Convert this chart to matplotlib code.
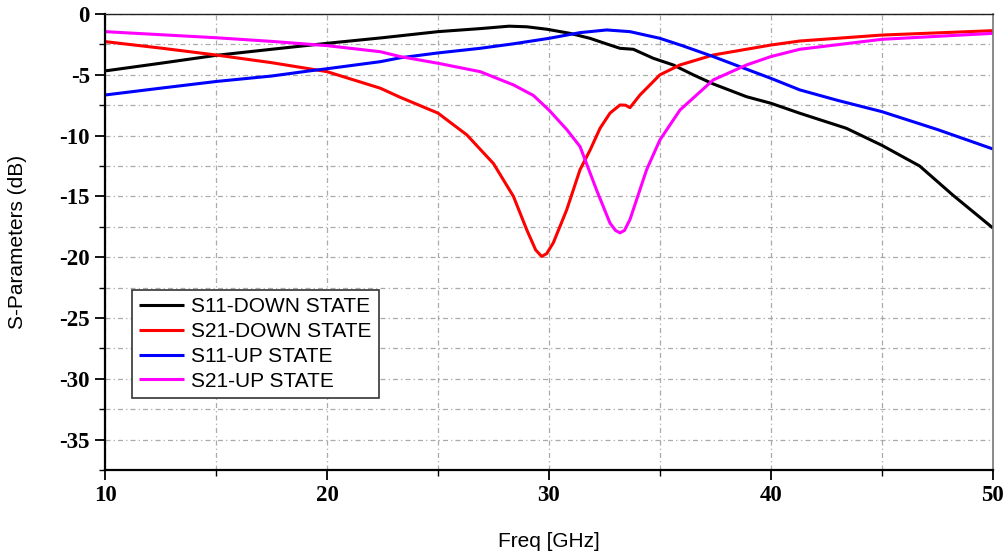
import numpy as np
import matplotlib as mpl
import matplotlib.pyplot as plt
from matplotlib.ticker import MultipleLocator

# S11 - down state (black)
f_s11_down = [10, 12.5, 15, 17.5, 20, 22.5, 25, 26.9, 28.2, 29.0, 29.9, 30.95, 31.85,
              32.5, 33.2, 33.8, 34.7, 35.6, 36.5, 37.4, 38.9, 40, 41.3, 43.4, 45,
              46.7, 48.2, 50]
s11_down = [-4.68, -4.05, -3.4, -2.9, -2.41, -1.95, -1.45, -1.2, -1.0, -1.05, -1.25, -1.59, -2.0,
            -2.4, -2.82, -2.9, -3.64, -4.19, -5.0, -5.75, -6.8, -7.34, -8.16, -9.4, -10.8,
            -12.5, -14.9, -17.6]

# S21 - down state (red)
f_s21_down = [10, 12.5, 15, 17.5, 20, 22.4, 23.3, 25, 26.3, 27.5, 28.4, 29.0, 29.4,
              29.67, 29.9, 30.2, 30.8, 31.4, 31.85, 32.3, 32.75, 33.2, 33.45, 33.65,
              34.1, 35, 35.9, 37.4, 40, 41.3, 45, 50]
s21_down = [-2.27, -2.8, -3.37, -4.0, -4.74, -6.1, -6.85, -8.15, -9.94, -12.3, -15.0, -17.75, -19.4,
            -19.94, -19.7, -18.8, -16.1, -12.8, -11.2, -9.4, -8.15, -7.48, -7.5, -7.7,
            -6.66, -5.0, -4.19, -3.37, -2.55, -2.22, -1.73, -1.37]

# S11 - up state (blue)
f_s11_up = [10, 12.5, 15, 17.5, 19.2, 20, 22.4, 23.3, 25, 26.9, 28.4, 30, 31.4, 32.6,
            33.65, 35, 36, 37.4, 38.7, 40, 41.3, 43, 45, 47.5, 50]
s11_up = [-6.66, -6.1, -5.55, -5.1, -4.68, -4.5, -3.92, -3.6, -3.2, -2.82, -2.45, -2.0, -1.53, -1.31,
          -1.45, -2.0, -2.6, -3.5, -4.4, -5.29, -6.24, -7.1, -8.03, -9.5, -11.1]

# S21 - up state (magenta)
f_s21_up = [10, 12.5, 15, 17.5, 20, 22.4, 23.3, 25, 26.9, 28.4, 29.3, 30, 30.8, 31.4,
            32.15, 32.75, 33.0, 33.2, 33.4, 33.65, 34.4, 35, 35.9, 37.4, 38.9, 40,
            41.3, 45, 50]
s21_up = [-1.45, -1.7, -1.95, -2.25, -2.6, -3.1, -3.5, -4.05, -4.74, -5.83, -6.7, -7.9, -9.5, -10.9,
          -14.5, -17.2, -17.8, -18.0, -17.8, -16.9, -12.8, -10.35, -7.9, -5.42, -4.19, -3.5,
          -2.9, -2.08, -1.59]

series = [
    (f_s11_down, s11_down, "#000000", "S11-DOWN STATE"),
    (f_s21_down, s21_down, "#FF0000", "S21-DOWN STATE"),
    (f_s11_up,   s11_up,   "#0000FF", "S11-UP STATE"),
    (f_s21_up,   s21_up,   "#FF00FF", "S21-UP STATE"),
]

mpl.rcParams.update({
    "font.family": ["Liberation Sans", "DejaVu Sans"],
})

TICK_FONT = dict(family=["Liberation Serif", "DejaVu Serif"], weight="bold", size=16.5)

fig = plt.figure(figsize=(10.07, 5.52), dpi=100)
ax = fig.add_axes([0.1043, 0.1486, 0.8817, 0.8260])

for f, s, col, lab in series:
    ax.plot(f, s, color=col, lw=2.2, label=lab, solid_capstyle="butt")

ax.set_xlim(10, 50)
ax.set_ylim(-37.5, 0)
ax.xaxis.set_major_locator(MultipleLocator(10))
ax.xaxis.set_minor_locator(MultipleLocator(5))
ax.yaxis.set_major_locator(MultipleLocator(5))
ax.yaxis.set_minor_locator(MultipleLocator(2.5))

grid_style = dict(color="#AAAAAA", lw=0.9, ls=(0, (4, 2.5, 1, 2.5)))
ax.grid(True, which="both", axis="both", **grid_style)
ax.set_axisbelow(True)

ax.tick_params(which="major", direction="out", length=7, width=1.3, pad=4, color="black")
ax.tick_params(which="minor", direction="out", length=4, width=1.0, color="black")
ax.set_xticks([10, 20, 30, 40, 50])
ax.set_xticklabels(["10", "20", "30", "40", "50"], fontdict=TICK_FONT)
yt = [0, -5, -10, -15, -20, -25, -30, -35]
ax.set_yticks(yt)
ax.set_yticklabels([str(v) for v in yt], fontdict=TICK_FONT)

ax.spines["left"].set_linewidth(1.6)
ax.spines["bottom"].set_linewidth(1.6)
ax.spines["top"].set_linewidth(1.0)
ax.spines["top"].set_color("#222222")
ax.spines["right"].set_linewidth(1.2)
ax.spines["right"].set_color("#777777")

ax.set_xlabel("Freq [GHz]", fontsize=15)
ax.set_ylabel("S-Parameters (dB)", fontsize=15)
ax.xaxis.set_label_coords(0.5, -0.135)
ax.yaxis.set_label_coords(-0.088, 0.5)

leg = ax.legend(loc="lower left", bbox_to_anchor=(0.03, 0.158), fontsize=15,
                frameon=True, fancybox=False, edgecolor="#333333", framealpha=1,
                handlelength=2.15, handletextpad=0.35, labelspacing=0.28,
                borderpad=0.35, borderaxespad=0)
leg.get_frame().set_linewidth(1.2)

fig.savefig("out.png", dpi=100)
